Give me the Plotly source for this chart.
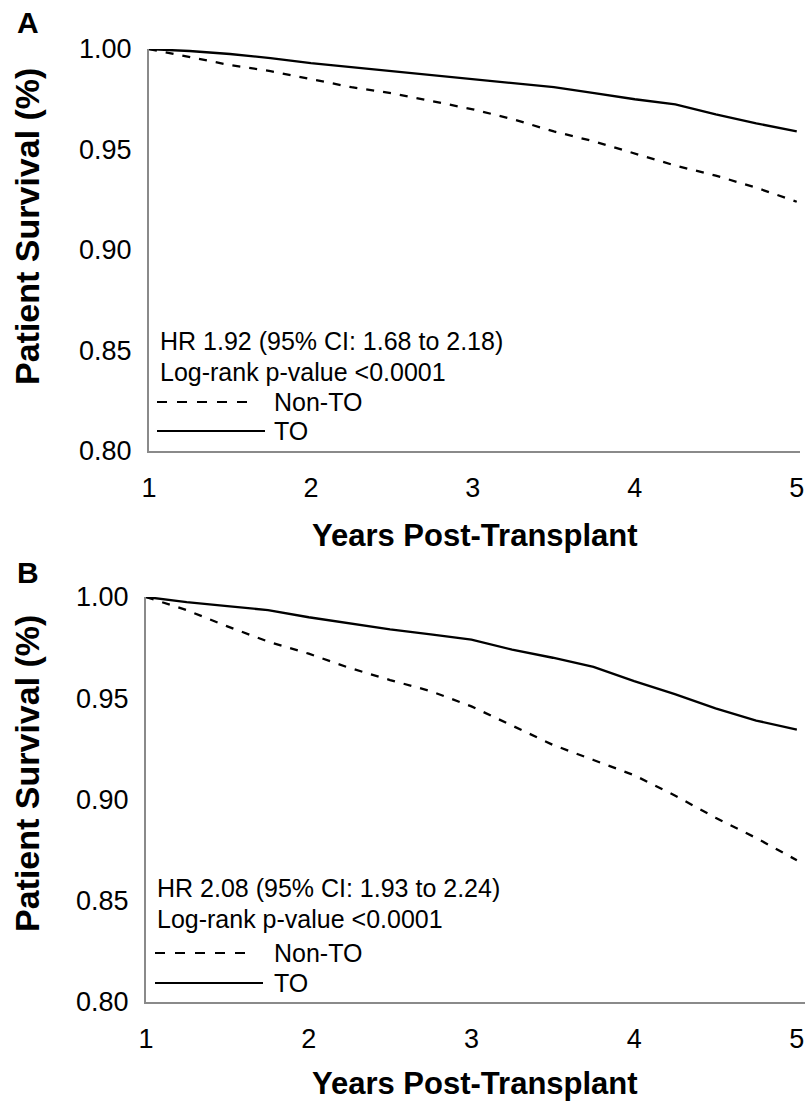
import plotly.graph_objects as go

W, H = 806, 1103

years = [1.0, 1.25, 1.5, 1.75, 2.0, 2.25, 2.5, 2.75, 3.0, 3.25, 3.5, 3.75, 4.0, 4.25, 4.5, 4.75, 5.0]

a_to = [1.000, 0.999, 0.9975, 0.9955, 0.993, 0.991, 0.989, 0.987, 0.985, 0.983, 0.981, 0.978, 0.975, 0.9725, 0.9675, 0.963, 0.959]
a_non_to = [1.000, 0.996, 0.992, 0.989, 0.985, 0.981, 0.978, 0.974, 0.970, 0.965, 0.959, 0.954, 0.948, 0.942, 0.937, 0.931, 0.924]

b_to = [1.000, 0.9975, 0.9955, 0.9935, 0.990, 0.987, 0.984, 0.9815, 0.979, 0.974, 0.970, 0.9655, 0.9585, 0.952, 0.945, 0.939, 0.9345]
b_non_to = [1.000, 0.9935, 0.9855, 0.978, 0.972, 0.965, 0.959, 0.9535, 0.946, 0.9365, 0.927, 0.9195, 0.912, 0.902, 0.891, 0.881, 0.870]

y_ticks = [0.80, 0.85, 0.90, 0.95, 1.00]
x_ticks = [1, 2, 3, 4, 5]

panels = ["A", "B"]
hr_text = ["HR 1.92 (95% CI: 1.68 to 2.18)", "HR 2.08 (95% CI: 1.93 to 2.24)"]
p_text = ["Log-rank p-value <0.0001", "Log-rank p-value <0.0001"]
legend_labels = ["Non-TO", "TO"]

FONT = "Liberation Sans, Arial, sans-serif"


def px(x):
    return x / W


def py(y):
    return 1 - y / H


fig = go.Figure()

series = [(a_non_to, a_to, "x", "y"), (b_non_to, b_to, "x2", "y2")]
for non_to, to, xa, ya in series:
    fig.add_trace(go.Scatter(x=years, y=non_to, mode="lines", xaxis=xa, yaxis=ya,
                             line=dict(color="black", width=2.3, dash="8px,9px"),
                             cliponaxis=False, showlegend=False))
    fig.add_trace(go.Scatter(x=years, y=to, mode="lines", xaxis=xa, yaxis=ya,
                             line=dict(color="black", width=2.3),
                             cliponaxis=False, showlegend=False))

# panel geometry in pixels: (left, right, top, bottom, xmax)
geo = [(149, 800, 49, 451, 5.02), (146, 805, 597, 1002, 5.05)]

axis_common = dict(showline=True, linecolor="#8a8a8a", linewidth=2, showgrid=False,
                   zeroline=False, ticks="outside", tickcolor="rgba(0,0,0,0)",
                   automargin=False, ticklabeloverflow="allow",
                   tickfont=dict(family=FONT, size=27, color="black"))

for i, (l, r, t, b, xmax) in enumerate(geo):
    sfx = "" if i == 0 else "2"
    fig.layout["xaxis" + sfx] = dict(axis_common, domain=[px(l), px(r)], range=[1, xmax],
                                     tickvals=x_ticks, ticklen=12,
                                     anchor="y" + sfx)
    fig.layout["yaxis" + sfx] = dict(axis_common, domain=[py(b), py(t)], range=[0.8, 1.0],
                                     tickvals=y_ticks, tickformat=".2f", ticklen=10,
                                     anchor="x" + sfx)

annotations = []
shapes = []
# text layout per panel (pixel positions)
txt = [dict(letter=(28, 22), ytitle=(27, 227), xtitle=(475, 535), left=158, lx0=157,
            rows=(341, 372, 402, 431)),
       dict(letter=(28, 572), ytitle=(27, 774), xtitle=(475, 1083), left=155, lx0=155,
            rows=(888, 919, 953, 983))]

for i, d in enumerate(txt):
    annotations.append(dict(x=px(d["letter"][0]), y=py(d["letter"][1]), xref="paper", yref="paper",
                            text="<b>" + panels[i] + "</b>", showarrow=False,
                            font=dict(family=FONT, size=30, color="black"),
                            xanchor="center", yanchor="middle"))
    annotations.append(dict(x=px(d["ytitle"][0]), y=py(d["ytitle"][1]), xref="paper", yref="paper",
                            text="<b>Patient Survival (%)</b>", showarrow=False, textangle=-90,
                            font=dict(family=FONT, size=34, color="black"),
                            xanchor="center", yanchor="middle"))
    annotations.append(dict(x=px(d["xtitle"][0]), y=py(d["xtitle"][1]), xref="paper", yref="paper",
                            text="<b>Years Post-Transplant</b>", showarrow=False,
                            font=dict(family=FONT, size=31, color="black"),
                            xanchor="center", yanchor="middle"))
    rows = d["rows"]
    for text, yy in ((hr_text[i], rows[0]), (p_text[i], rows[1])):
        annotations.append(dict(x=px(d["left"]), y=py(yy), xref="paper", yref="paper",
                                text=text, showarrow=False,
                                font=dict(family=FONT, size=25, color="black"),
                                xanchor="left", yanchor="middle"))
    for j, (lab, dash, x1) in enumerate(((legend_labels[0], "10px,10px", d["lx0"] + 100),
                                         (legend_labels[1], "solid", d["lx0"] + 108))):
        yy = rows[2 + j]
        shapes.append(dict(type="line", xref="paper", yref="paper",
                           x0=px(d["lx0"]), x1=px(x1), y0=py(yy), y1=py(yy),
                           line=dict(color="black", width=1.8, dash=dash)))
        annotations.append(dict(x=px(272), y=py(yy), xref="paper", yref="paper",
                                text=lab, showarrow=False,
                                font=dict(family=FONT, size=25, color="black"),
                                xanchor="left", yanchor="middle"))

fig.update_layout(width=W, height=H, margin=dict(l=0, r=0, t=0, b=0, autoexpand=False),
                  paper_bgcolor="white", plot_bgcolor="white",
                  annotations=annotations, shapes=shapes, showlegend=False)

fig.write_html("out.html", config={"displayModeBar": False})
